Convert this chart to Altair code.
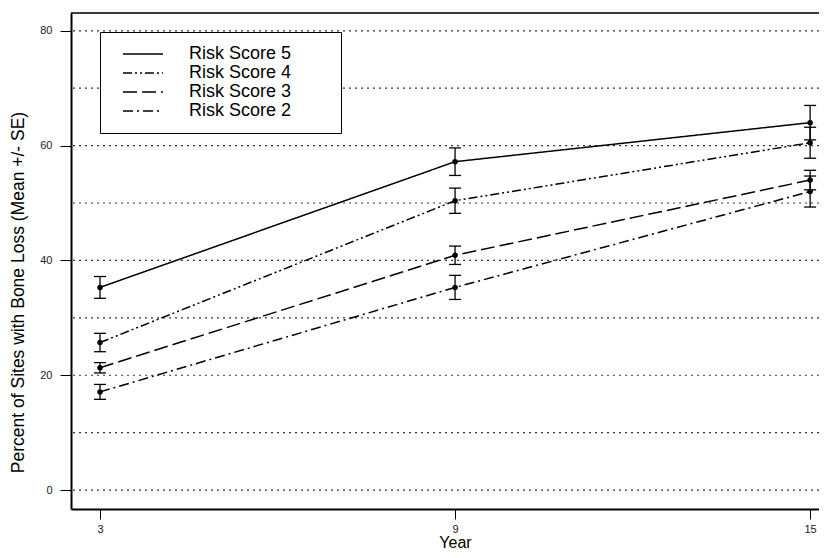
import altair as alt
import pandas as pd

# ---- data ----
years = [3, 9, 15]
series = ["Risk Score 5", "Risk Score 4", "Risk Score 3", "Risk Score 2"]
mean_5 = [35.3, 57.2, 64.0]
se_5 = [1.9, 2.4, 3.0]
mean_4 = [25.7, 50.4, 60.5]
se_4 = [1.6, 2.2, 2.7]
mean_3 = [21.3, 40.9, 54.0]
se_3 = [0.9, 1.6, 1.7]
mean_2 = [17.1, 35.3, 52.0]
se_2 = [1.3, 2.1, 2.7]

grid_values = [0, 10, 20, 30, 40, 50, 60, 70, 80]
y_tick_values = [0, 20, 40, 60, 80]
x_tick_values = [3, 9, 15]

x_domain = [2.51, 15.15]
y_domain = [-3.3, 83.1]

means = {"Risk Score 5": mean_5, "Risk Score 4": mean_4,
         "Risk Score 3": mean_3, "Risk Score 2": mean_2}
ses = {"Risk Score 5": se_5, "Risk Score 4": se_4,
       "Risk Score 3": se_3, "Risk Score 2": se_2}

rows = []
for s in series:
    for yr, m, e in zip(years, means[s], ses[s]):
        rows.append({"series": s, "year": yr, "mean": m, "lo": m - e, "hi": m + e})
df = pd.DataFrame(rows)

caps = pd.concat([
    df[["series", "year", "lo"]].rename(columns={"lo": "v"}),
    df[["series", "year", "hi"]].rename(columns={"hi": "v"}),
])

grid_df = pd.DataFrame({"v": grid_values})
top_df = pd.DataFrame({"v": [y_domain[1]]})

FONT = "Liberation Sans"

x_scale = alt.Scale(domain=x_domain, nice=False, zero=False)
y_scale = alt.Scale(domain=y_domain, nice=False, zero=False)

x_axis = alt.Axis(values=x_tick_values, title="Year", grid=False,
                  tickSize=10, tickColor="black", tickWidth=1,
                  labelPadding=4, labelFontSize=11, labelColor="#222",
                  domainColor="black", domainWidth=2,
                  titleFontSize=16, titleFontWeight="normal", titleColor="black",
                  titleX=384, titleY=41, titleBaseline="bottom",
                  titleAlign="center")
y_axis = alt.Axis(values=y_tick_values, title="Percent of Sites with Bone Loss (Mean +/- SE)",
                  grid=False, tickSize=11, tickColor="black", tickWidth=1,
                  labelPadding=8, labelFontSize=11, labelColor="#222",
                  domainColor="black", domainWidth=2,
                  titleFontSize=17.5, titleFontWeight="normal", titleColor="black",
                  titleX=-53, titleY=279, titleAngle=-90, titleAlign="center",
                  titleBaseline="middle")


def X(field):
    return alt.X(field, type="quantitative", scale=x_scale, axis=x_axis)


def Y(field):
    return alt.Y(field, type="quantitative", scale=y_scale, axis=y_axis)


grid = alt.Chart(grid_df).mark_rule(
    strokeDash=[2, 4], color="#333", strokeWidth=1.2
).encode(y=Y("v"))

top = alt.Chart(top_df).mark_rule(color="black", strokeWidth=1.5).encode(y=Y("v"))

dash_range = [[1, 0], [9, 3, 2, 3, 2, 3], [14, 5], [10, 4, 2, 4]]

lines = alt.Chart(df).mark_line(color="black", strokeWidth=1.5).encode(
    x=X("year"),
    y=Y("mean"),
    strokeDash=alt.StrokeDash(
        "series:N",
        sort=series,
        scale=alt.Scale(domain=series, range=dash_range),
        legend=alt.Legend(
            title="\u200b", titleOrient="right", titlePadding=37,
            orient="none", legendX=29, legendY=19,
            symbolType="M-2.5,0H2.5", symbolSize=256, symbolStrokeWidth=1.5,
            symbolStrokeColor="black", symbolOffset=21,
            labelFontSize=18, labelFont=FONT,
            labelColor="black", labelOffset=37, rowPadding=1,
            padding=13, strokeColor="black", fillColor="white",
        ),
    ),
)

bars = alt.Chart(df).mark_rule(color="black", strokeWidth=1.3).encode(
    x=X("year"), y=Y("lo"), y2="hi", detail="series:N"
)

cap_marks = alt.Chart(caps).mark_rule(
    color="black", strokeWidth=1.3, xOffset=-6, x2Offset=6
).encode(x=X("year"), x2="year", y=Y("v"), detail="series:N")

points = alt.Chart(df).mark_circle(color="black", opacity=1, size=30).encode(
    x=X("year"), y=Y("mean"), detail="series:N"
)

chart = alt.layer(grid, top, bars, cap_marks, lines, points).properties(
    width=748, height=496,
    autosize=alt.AutoSizeParams(type="none"),
    padding={"left": 63, "top": 5, "right": 0, "bottom": 41},
).configure_view(stroke=None).configure(font=FONT)

chart.save("out.html", embed_options={"renderer": "svg", "actions": False})
